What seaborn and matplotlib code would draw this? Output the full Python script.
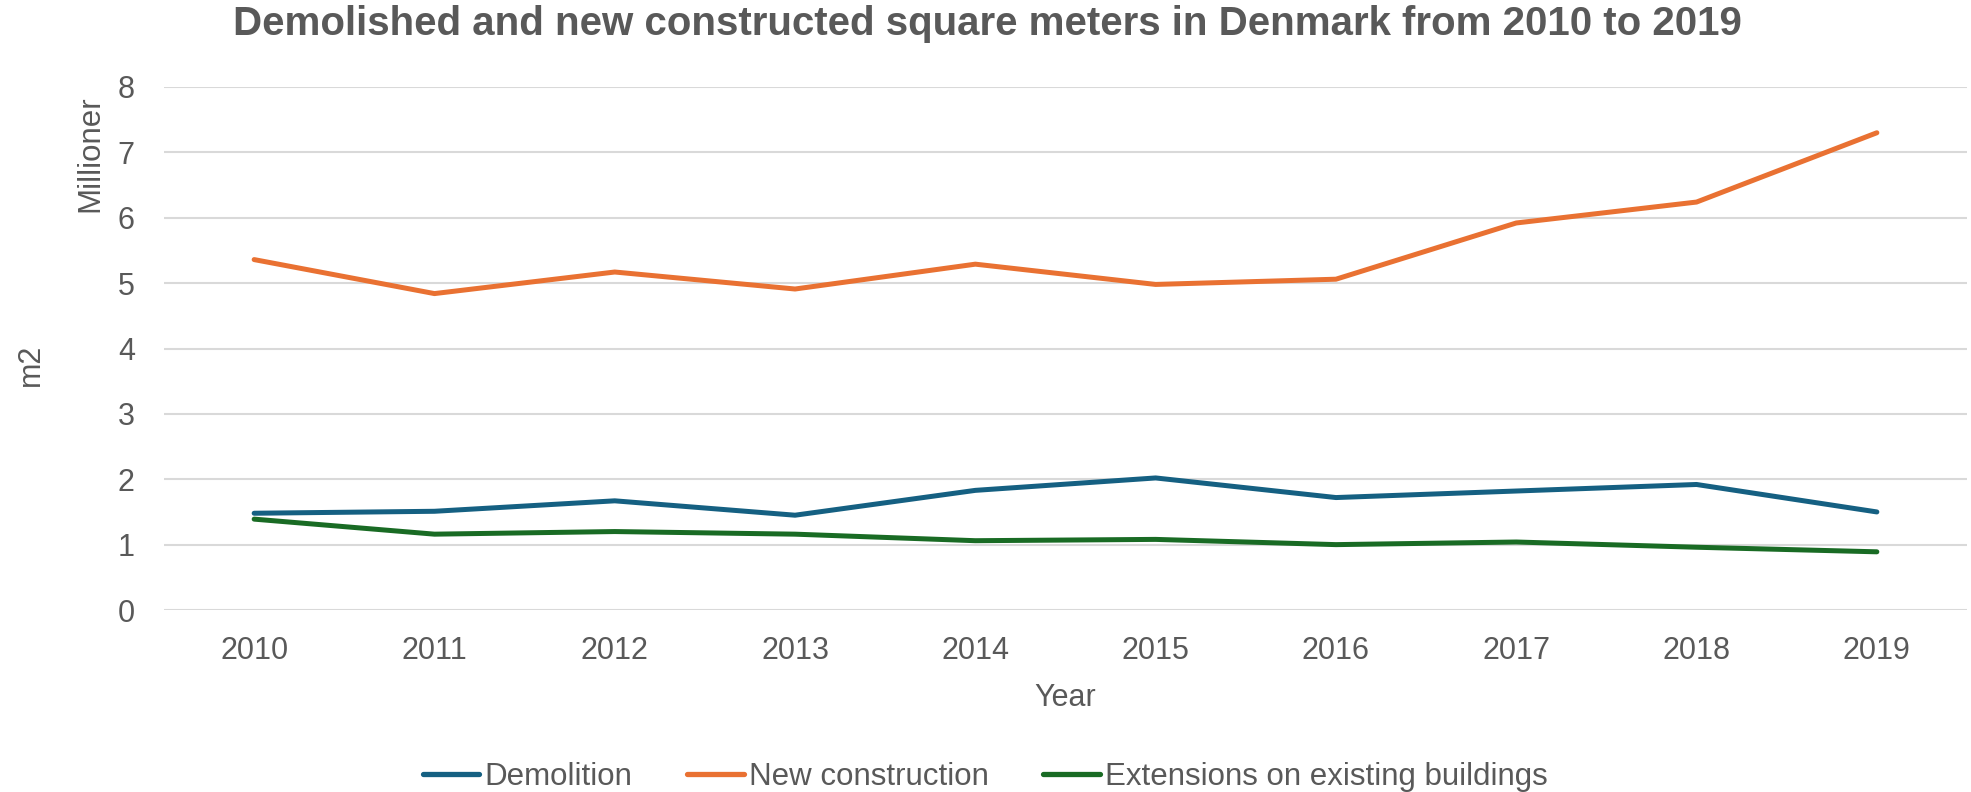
import matplotlib
matplotlib.use('Agg')
import pandas as pd
import seaborn as sns
from matplotlib import pyplot as plt

# values (million m2)
years = [2010, 2011, 2012, 2013, 2014, 2015, 2016, 2017, 2018, 2019]
demolition = [1.48, 1.51, 1.67, 1.45, 1.83, 2.02, 1.72, 1.82, 1.92, 1.50]
new_construction = [5.36, 4.84, 5.17, 4.91, 5.29, 4.98, 5.06, 5.92, 6.24, 7.30]
extensions = [1.39, 1.16, 1.20, 1.16, 1.06, 1.08, 1.00, 1.04, 0.96, 0.89]
series_names = ["Demolition", "New construction", "Extensions on existing buildings"]
colors = ["#156082", "#E97132", "#196B24"]

TXT = "#595959"

frames = []
for name, vals in zip(series_names, [demolition, new_construction, extensions]):
    frames.append(pd.DataFrame({"Year": years, "m2": vals, "Series": name}))
df = pd.concat(frames, ignore_index=True)

sns.set_theme(style="white")
plt.rcParams['font.family'] = ['Liberation Sans', 'DejaVu Sans']

fig = plt.figure(figsize=(19.71, 7.92), dpi=100)
ax = fig.add_axes([164 / 1971, 1 - 610 / 792, (1967 - 164) / 1971, (610 - 87) / 792])

sns.lineplot(data=df, x="Year", y="m2", hue="Series", hue_order=series_names,
             palette=colors, linewidth=3.6, ax=ax, legend=True,
             solid_capstyle='round', solid_joinstyle='round')

ax.set_xlim(2009.5, 2019.5)
ax.set_ylim(0, 8)
ax.set_xticks(years)
ax.set_xticklabels([str(y) for y in years])
ax.set_yticks(range(0, 9))
ax.grid(axis='y', color='#D9D9D9', linewidth=1.5)
ax.grid(axis='x', visible=False)
ax.set_axisbelow(True)
for s in ax.spines.values():
    s.set_visible(False)
ax.tick_params(axis='both', length=0, labelsize=22, colors=TXT)
ax.tick_params(axis='y', pad=21)
ax.tick_params(axis='x', pad=19)

ax.set_xlabel("Year", fontsize=22, color=TXT, labelpad=12)
ax.set_ylabel("")

fig.text(31 / 1971, 1 - 365 / 792, "m2", rotation=90, fontsize=22, color=TXT,
         ha='center', va='center')
fig.text(90 / 1971, 1 - 154 / 792, "Millioner", rotation=90, fontsize=22.5, color=TXT,
         ha='center', va='center')
fig.text(987 / 1971, 1 - 24 / 792,
         "Demolished and new constructed square meters in Denmark from 2010 to 2019",
         fontsize=29, fontweight='bold', color=TXT, ha='center', va='center')

handles, labels = ax.get_legend_handles_labels()
ax.get_legend().remove()
leg = fig.legend(handles, labels, loc='center', bbox_to_anchor=(0.5, 1 - 777 / 792),
                 ncol=3, frameon=False, fontsize=22.5, handlelength=1.8,
                 handletextpad=0.17, columnspacing=1.75, labelcolor=TXT)
for h in leg.get_lines():
    h.set_linewidth(3.8)
    h.set_solid_capstyle('round')

fig.savefig("out.png", dpi=100, facecolor='white')
